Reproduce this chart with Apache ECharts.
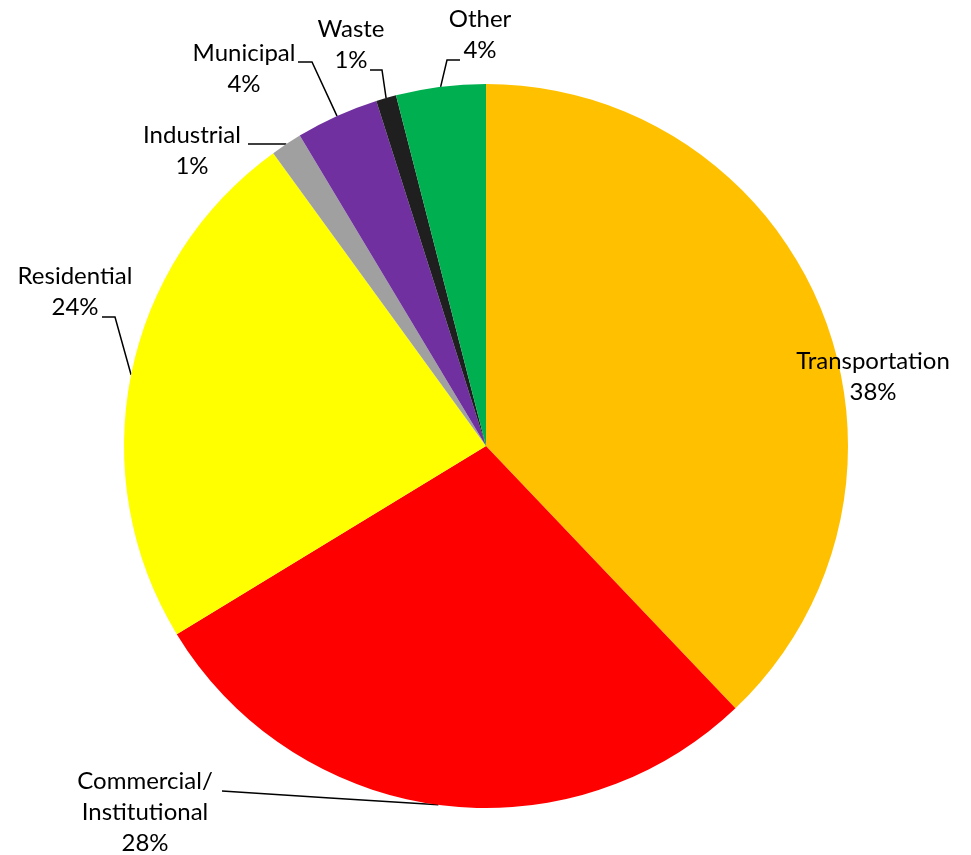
<!DOCTYPE html>
<html>
<head>
<meta charset="utf-8">
<script src="https://cdn.jsdelivr.net/npm/echarts@6/dist/echarts.min.js"></script>
<style>
  html, body { margin: 0; padding: 0; background: #fff; }
  #chart1 { width: 971px; height: 855px; }
</style>
</head>
<body>
<div id="chart1"></div>
<script>
// sectors, clockwise from 12 o'clock
var categories = ['Transportation', 'Commercial/\nInstitutional', 'Residential', 'Industrial', 'Municipal', 'Waste', 'Other'];
var shares = [37.9, 28.4, 23.7, 1.4, 3.7, 0.9, 4.0];
var colors = ['#FFC000', '#FF0000', '#FFFF00', '#A0A0A0', '#7030A0', '#1F1F1F', '#00B050'];

// where each label sits (text centre) and the bends of its leader line
var labelSpots = [
    { x: 873, y: 377, line: null },
    { x: 145, y: 812, line: [[330, 798], [222, 791]] },
    { x: 75, y: 292, line: [[115, 317], [102, 317]] },
    { x: 192, y: 151, line: [[270, 144], [248, 144]] },
    { x: 244, y: 69, line: [[312, 62], [298, 62]] },
    { x: 351, y: 45, line: [[382, 70], [370, 70]] },
    { x: 480, y: 35, line: [[447, 60], [460, 60]] }
];

var myChart1 = echarts.init(document.getElementById('chart1'));

myChart1.setOption({
    animation: false,
    series: [{
        type: 'pie',
        center: [486, 446],
        radius: 362,
        startAngle: 90,
        clockwise: true,
        percentPrecision: 0,
        data: categories.map(function (name, i) {
            return {
                name: name,
                value: shares[i],
                itemStyle: { color: colors[i] },
                labelLine: { show: labelSpots[i].line !== null }
            };
        }),
        label: {
            show: true,
            position: 'outside',
            alignTo: 'none',
            overflow: 'none',
            formatter: '{b}\n{d}%',
            fontFamily: 'Lato',
            fontSize: 24,
            lineHeight: 31,
            color: '#000'
        },
        labelLine: {
            show: true,
            lineStyle: { color: '#000', width: 1.5 }
        },
        emphasis: { disabled: true },
        labelLayout: function (params) {
            var spot = labelSpots[params.dataIndex];
            var out = { x: spot.x, y: spot.y, align: 'center', verticalAlign: 'middle' };
            if (spot.line && params.labelLinePoints) {
                out.labelLinePoints = [params.labelLinePoints[0], spot.line[0], spot.line[1]];
            }
            return out;
        }
    }]
});
</script>
</body>
</html>
